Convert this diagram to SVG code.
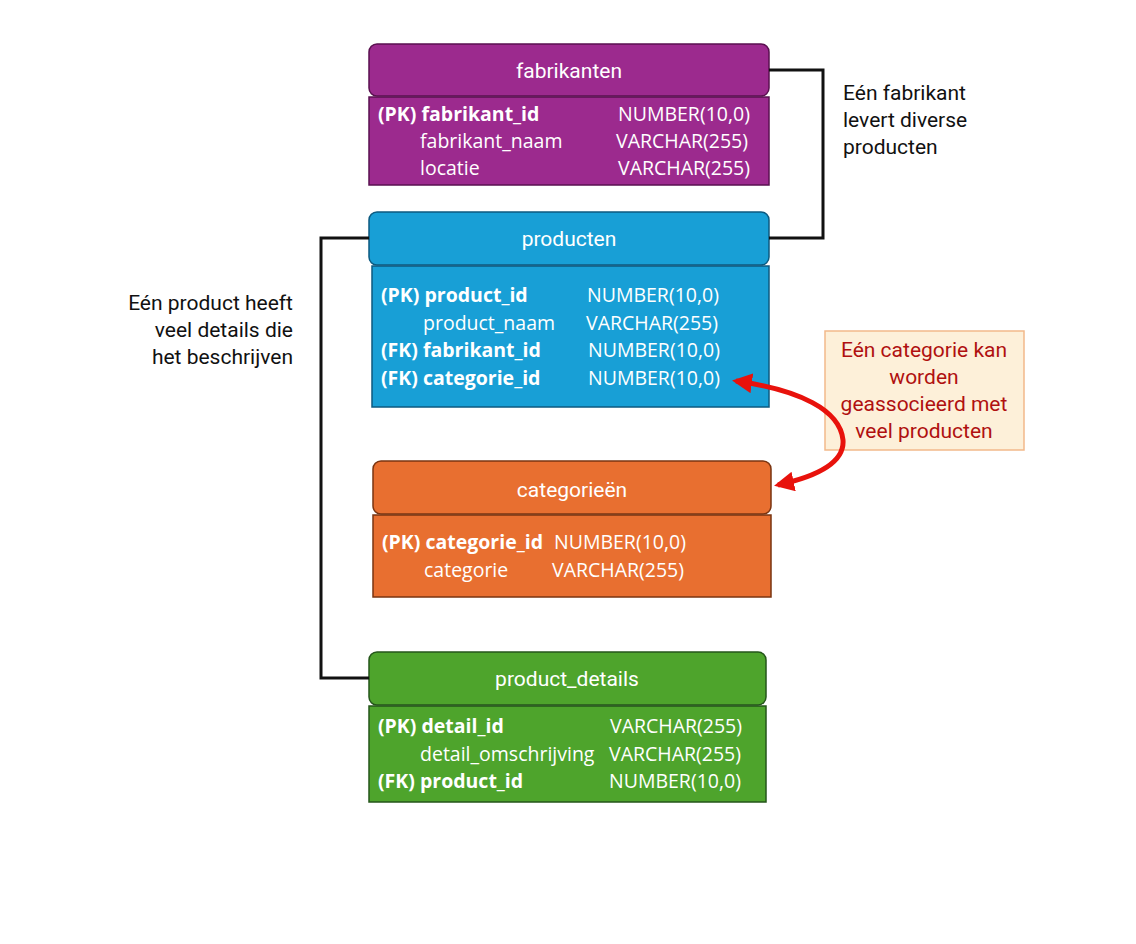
<svg xmlns="http://www.w3.org/2000/svg" width="1136" height="944" viewBox="0 0 1136 944">
<defs>
<style>
.hd{font-family:Roboto,"Liberation Sans",sans-serif;font-size:21px;fill:#fff;text-anchor:middle}
.f{font-family:"Open Sans","Liberation Sans",sans-serif;font-size:19.5px;fill:#fff}
.b{font-weight:bold}
.n{font-family:Roboto,"Liberation Sans",sans-serif;font-size:21px;fill:#111}
.r{font-family:Roboto,"Liberation Sans",sans-serif;font-size:21px;fill:#b01010;text-anchor:middle}
.ln{fill:none;stroke:#111;stroke-width:3}
</style>
<marker id="ah" viewBox="0 0 10 10" refX="8" refY="5" markerWidth="4" markerHeight="4" orient="auto-start-reverse"><path d="M0,0L10,5L0,10z" fill="#e8120c"/></marker>
</defs>
<rect width="1136" height="944" fill="#fff"/>
<g id="fabrikanten">
<rect x="369" y="44" width="400" height="52" rx="8" fill="#9c2a8e" stroke="#5a1050" stroke-width="1.5"/>
<rect x="369" y="97" width="400" height="88" fill="#9c2a8e" stroke="#5a1050" stroke-width="1.5"/>
<text class="hd" x="569" y="78">fabrikanten</text>
<text class="f b" x="378" y="121">(PK) fabrikant_id</text><text class="f" x="618" y="121">NUMBER(10,0)</text>
<text class="f" x="420" y="148">fabrikant_naam</text><text class="f" x="616" y="148">VARCHAR(255)</text>
<text class="f" x="420" y="175">locatie</text><text class="f" x="618" y="175">VARCHAR(255)</text>
</g>
<g id="producten">
<rect x="369" y="212" width="400" height="53" rx="8" fill="#189fd6" stroke="#0c5a80" stroke-width="1.5"/>
<rect x="372" y="266" width="397" height="141" fill="#189fd6" stroke="#0c5a80" stroke-width="1.5"/>
<text class="hd" x="569" y="246">producten</text>
<text class="f b" x="381" y="302">(PK) product_id</text><text class="f" x="587" y="302">NUMBER(10,0)</text>
<text class="f" x="423" y="330">product_naam</text><text class="f" x="586" y="330">VARCHAR(255)</text>
<text class="f b" x="381" y="357">(FK) fabrikant_id</text><text class="f" x="588" y="357">NUMBER(10,0)</text>
<text class="f b" x="381" y="385">(FK) categorie_id</text><text class="f" x="588" y="385">NUMBER(10,0)</text>
</g>
<g id="categorieen">
<rect x="373" y="461" width="398" height="53" rx="8" fill="#e86f30" stroke="#7a3410" stroke-width="1.5"/>
<rect x="373" y="515" width="398" height="82" fill="#e86f30" stroke="#7a3410" stroke-width="1.5"/>
<text class="hd" x="572" y="497">categorieën</text>
<text class="f b" x="382" y="549">(PK) categorie_id</text><text class="f" x="554" y="549">NUMBER(10,0)</text>
<text class="f" x="424" y="577">categorie</text><text class="f" x="552" y="577">VARCHAR(255)</text>
</g>
<g id="product_details">
<rect x="369" y="652" width="397" height="53" rx="8" fill="#4ea42c" stroke="#24561a" stroke-width="1.5"/>
<rect x="369" y="706" width="397" height="96" fill="#4ea42c" stroke="#24561a" stroke-width="1.5"/>
<text class="hd" x="567" y="686">product_details</text>
<text class="f b" x="378" y="733">(PK) detail_id</text><text class="f" x="610" y="733">VARCHAR(255)</text>
<text class="f" x="420" y="761">detail_omschrijving</text><text class="f" x="609" y="761">VARCHAR(255)</text>
<text class="f b" x="378" y="788">(FK) product_id</text><text class="f" x="609" y="788">NUMBER(10,0)</text>
</g>
<g id="note1">
<text class="n" x="843" y="100">Eén fabrikant</text>
<text class="n" x="843" y="127">levert diverse</text>
<text class="n" x="843" y="154">producten</text>
</g>
<g id="note2">
<text class="n" x="293" y="310" text-anchor="end">Eén product heeft</text>
<text class="n" x="293" y="337" text-anchor="end">veel details die</text>
<text class="n" x="293" y="364" text-anchor="end">het beschrijven</text>
</g>
<g id="note3">
<rect x="825" y="331" width="199" height="119" fill="#fdf0d9" stroke="#f2b98a" stroke-width="1.5"/>
<text class="r" x="924" y="357">Eén categorie kan</text>
<text class="r" x="924" y="384">worden</text>
<text class="r" x="924" y="411">geassocieerd met</text>
<text class="r" x="924" y="438">veel producten</text>
</g>
<g id="connectors">
<path class="ln" d="M769,70H823V238H769"/>
<path class="ln" d="M369,238H321V678H369"/>
<path d="M736,381C800,390 840,410 843,440C845,465 810,478 778,485" fill="none" stroke="#e8120c" stroke-width="5" marker-start="url(#ah)" marker-end="url(#ah)"/>
</g>
</svg>
